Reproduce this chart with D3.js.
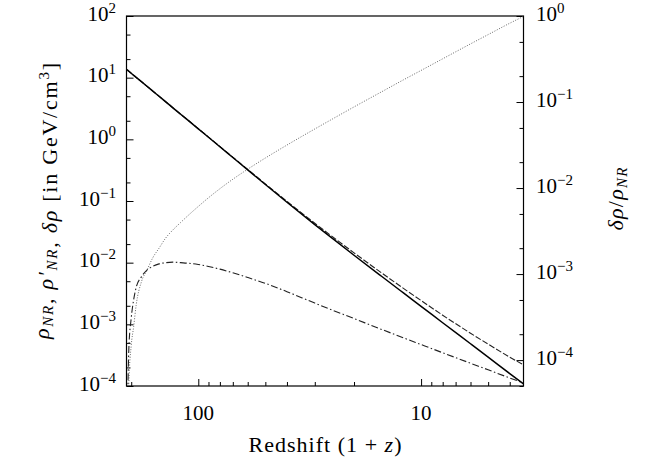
<!DOCTYPE html>
<html><head><meta charset="utf-8">
<script src="https://cdn.jsdelivr.net/npm/d3@7"></script>
<style>body{margin:0;background:#fff} text{font-family:"Liberation Serif",serif;fill:#000}</style>
</head><body><svg id="c" width="651" height="462"></svg>
<script>
// ---- data ----
const redshift   = [210, 207, 205, 200, 195, 190, 180, 170, 160, 150, 140, 130, 120, 110, 100, 90, 80, 70, 60, 50, 40, 30, 25, 20, 15, 12, 10, 8, 6, 5, 4, 3.47];
const rhoNR      = [13.68, 13.1, 12.7, 11.8, 10.9, 10.1, 8.61, 7.26, 6.05, 4.99, 4.06, 3.24, 2.55, 1.97, 1.48, 1.08, 0.757, 0.507, 0.319, 0.185, 0.0953, 0.0414, 0.0247, 0.0132, 0.00596, 0.00323, 0.00196, 0.00106, 0.000484, 0.000294, 0.000159, 0.000108];
const rhoNRprime = [13.69, 13.11, 12.71, 11.81, 10.91, 10.11, 8.62, 7.27, 6.06, 5.0, 4.07, 3.25, 2.56, 1.98, 1.489, 1.089, 0.765, 0.514, 0.325, 0.1896, 0.0987, 0.0436, 0.0264, 0.01444, 0.00678, 0.00383, 0.00243, 0.001406, 0.000718, 0.000477, 0.000294, 0.00022];
const deltaRho   = [1.0e-5, 1.0e-4, 3.98e-4, 1.26e-3, 2.51e-3, 3.98e-3, 5.89e-3, 7.59e-3, 8.71e-3, 9.55e-3, 0.0100, 0.0102, 0.0100, 9.77e-3, 9.33e-3, 8.67e-3, 7.85e-3, 6.84e-3, 5.75e-3, 4.62e-3, 3.39e-3, 2.21e-3, 1.7e-3, 1.24e-3, 8.24e-4, 6.04e-4, 4.7e-4, 3.46e-4, 2.34e-4, 1.83e-4, 1.35e-4, 1.12e-4];
const deltaRatio = [null, 2.0e-5, 5.37e-5, 1.48e-4, 2.45e-4, 4.37e-4, 8.13e-4, 1.11e-3, 1.55e-3, 2.0e-3, 2.63e-3, 3.26e-3, 3.98e-3, 4.91e-3, 6.11e-3, 7.71e-3, 9.82e-3, 0.01265, 0.01656, 0.02234, 0.0316, 0.0486, 0.0635, 0.0877, 0.132, 0.181, 0.233, 0.318, 0.474, 0.608, 0.824, 0.99];
const leftTickExp  = [2, 1, 0, -1, -2, -3, -4];
const rightTickExp = [0, -1, -2, -3, -4];
const xTickLabels  = [100, 10];
const xMinor = [200, 90, 80, 70, 60, 50, 40, 30, 20, 9, 8, 7, 6, 5, 4];

// ---- layout ----
const W = 651, H = 462;
const m = {left: 126.5, right: 127.5, top: 16, bottom: 76};
const x  = d3.scaleLog().domain([210, 3.47]).range([m.left, W - m.right]);
const yL = d3.scaleLog().domain([1e-4, 1e2]).range([H - m.bottom, m.top]);
const yR = d3.scaleLog().domain([5e-5, 1]).range([H - m.bottom, m.top]);
const svg = d3.select("#c");
const FS = 21, SUP = 15;

svg.append("defs").append("clipPath").attr("id", "clip")
  .append("rect").attr("x", m.left).attr("y", m.top)
  .attr("width", W - m.left - m.right).attr("height", H - m.top - m.bottom);

function minors(scale) {
  const [a, b] = scale.domain();
  const lo = Math.floor(Math.log10(Math.min(a, b))), hi = Math.ceil(Math.log10(Math.max(a, b)));
  const out = [];
  for (let e = lo; e <= hi; e++) for (const k of [2, 5]) {
    const v = k * Math.pow(10, e);
    if (v >= Math.min(a, b) && v <= Math.max(a, b)) out.push(v);
  }
  return out;
}
function drawAxis(gen, transform) {
  const g = svg.append("g").attr("transform", transform).call(gen);
  g.select(".domain").remove();
  g.selectAll("line").attr("stroke", "#000").attr("stroke-width", 1);
  g.selectAll("text").remove();
  return g;
}
const lMaj = leftTickExp.map(e => Math.pow(10, e));
const rMaj = rightTickExp.map(e => Math.pow(10, e));
drawAxis(d3.axisLeft(yL).tickValues(lMaj).tickSize(-7), `translate(${m.left},0)`);
drawAxis(d3.axisLeft(yL).tickValues(minors(yL)).tickSize(-4), `translate(${m.left},0)`);
drawAxis(d3.axisRight(yR).tickValues(rMaj).tickSize(-7), `translate(${W - m.right},0)`);
drawAxis(d3.axisRight(yR).tickValues(minors(yR)).tickSize(-4), `translate(${W - m.right},0)`);
drawAxis(d3.axisBottom(x).tickValues(xTickLabels).tickSize(-7), `translate(0,${H - m.bottom})`);
drawAxis(d3.axisBottom(x).tickValues(xMinor).tickSize(-4), `translate(0,${H - m.bottom})`);

svg.append("rect").attr("x", m.left).attr("y", m.top)
  .attr("width", W - m.left - m.right).attr("height", H - m.top - m.bottom)
  .attr("fill", "none").attr("stroke", "#000").attr("stroke-width", 1.2);

function powLabel(xp, yp, exp, anchor) {
  const t = svg.append("text").attr("x", xp).attr("y", yp).attr("font-size", FS).attr("text-anchor", anchor);
  t.append("tspan").text("10");
  t.append("tspan").attr("font-size", SUP).attr("dy", -8).text(exp < 0 ? "\u2212" + (-exp) : String(exp));
}
leftTickExp.forEach(e => powLabel(116, yL(Math.pow(10, e)) + 4.5, e, "end"));
rightTickExp.forEach(e => powLabel(536, yR(Math.pow(10, e)) + 4.5, e, "start"));
xTickLabels.forEach(v => svg.append("text").attr("x", x(v)).attr("y", H - m.bottom + 34)
  .attr("font-size", FS).attr("text-anchor", "middle").text(v));

// axis titles
const xt = svg.append("text").attr("x", (m.left + W - m.right) / 2).attr("y", 452)
  .attr("font-size", 22).attr("text-anchor", "middle")
  .attr("textLength", 153).attr("lengthAdjust", "spacing");
xt.append("tspan").text("Redshift (1 + ");
xt.append("tspan").attr("font-style", "italic").text("z");
xt.append("tspan").text(")");

function rhoSub(t, prime) {
  t.append("tspan").attr("font-style", "italic").text(prime ? "\u03c1\u2032" : "\u03c1");
  t.append("tspan").attr("font-style", "italic").attr("font-size", SUP).attr("dy", 4).text("NR");
  t.append("tspan").attr("dy", -4).text("");
}
const yt = svg.append("text").attr("transform", "translate(49,201) rotate(-90)")
  .attr("font-size", 22).attr("text-anchor", "middle")
  .attr("textLength", 276).attr("lengthAdjust", "spacing");
rhoSub(yt, false);
yt.append("tspan").text(", ");
rhoSub(yt, true);
yt.append("tspan").text(", ");
yt.append("tspan").attr("font-style", "italic").text("\u03b4\u03c1");
yt.append("tspan").text(" [in GeV/cm");
yt.append("tspan").attr("font-size", SUP).attr("dy", -8).text("3");
yt.append("tspan").attr("dy", 8).text("]");

const rt = svg.append("text").attr("transform", "translate(623,199) rotate(-90)")
  .attr("font-size", 22).attr("text-anchor", "middle")
  .attr("textLength", 63).attr("lengthAdjust", "spacing");
rt.append("tspan").attr("font-style", "italic").text("\u03b4\u03c1");
rt.append("tspan").text("/");
rhoSub(rt, false);

// curves
const plot = svg.append("g").attr("clip-path", "url(#clip)");
function curve(vals, ys, opts) {
  const pts = redshift.map((z, i) => [z, vals[i]]);
  const line = d3.line().defined(d => d[1] != null)
    .x(d => x(d[0])).y(d => ys(d[1])).curve(d3.curveMonotoneX);
  plot.append("path").attr("d", line(pts)).attr("fill", "none")
    .attr("stroke", opts.color).attr("stroke-width", opts.w)
    .attr("stroke-dasharray", opts.dash || null);
}
curve(deltaRatio, yR, {color: "#666", w: 1, dash: "1,1.6"});
curve(deltaRho, yL, {color: "#222", w: 1.1, dash: "7,2.5,1.5,2.5"});
curve(rhoNRprime, yL, {color: "#222", w: 1.1, dash: "6,2"});
curve(rhoNR, yL, {color: "#000", w: 1.5});
</script></body></html>
